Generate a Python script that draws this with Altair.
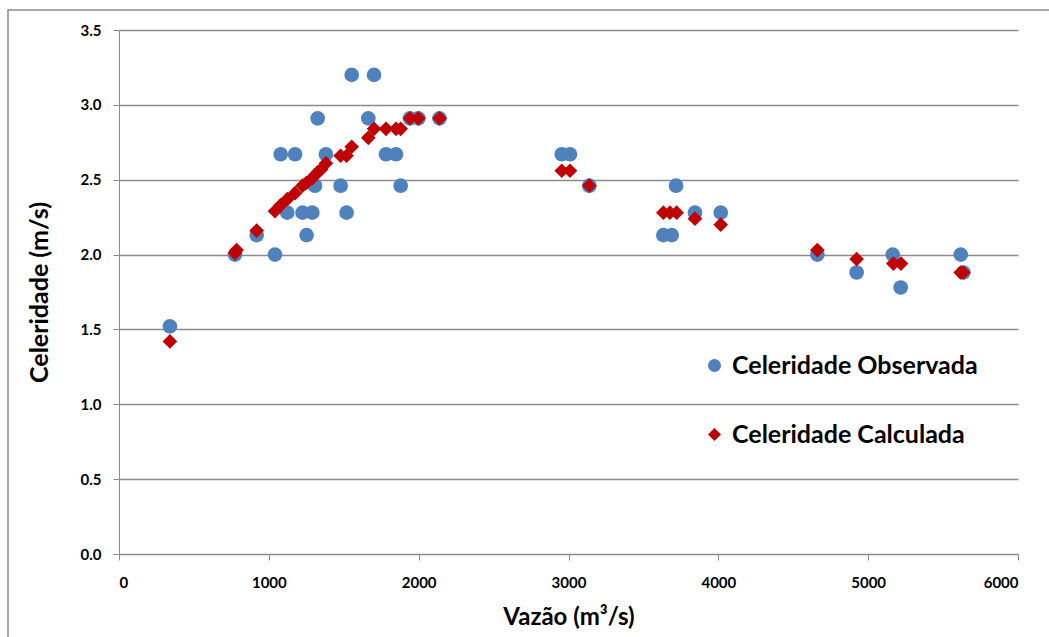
import altair as alt
import pandas as pd

# Observed celerity (blue circles)
obs_x = [340, 774, 919, 1041, 1079, 1123, 1175, 1225, 1252, 1290, 1308, 1326, 1381,
         1479, 1519, 1553, 1664, 1702, 1782, 1849, 1880, 1942, 1998, 2139,
         2955, 3010, 3139, 3633, 3689, 3718, 3844, 4016,
         4661, 4923, 5164, 5217, 5618, 5635]
obs_y = [1.52, 2.0, 2.13, 2.0, 2.67, 2.28, 2.67, 2.28, 2.13, 2.28, 2.46, 2.91, 2.67,
         2.46, 2.28, 3.2, 2.91, 3.2, 2.67, 2.67, 2.46, 2.91, 2.91, 2.91,
         2.67, 2.67, 2.46, 2.13, 2.13, 2.46, 2.28, 2.28,
         2.0, 1.88, 2.0, 1.78, 2.0, 1.88]

# Calculated celerity (red diamonds)
calc_x = [340, 774, 785, 919, 1041, 1079, 1123, 1175, 1225, 1252, 1290, 1308, 1326, 1350, 1381,
          1479, 1519, 1553, 1664, 1702, 1782, 1849, 1880, 1942, 1998, 2139,
          2955, 3010, 3139, 3633, 3677, 3722, 3844, 4016,
          4661, 4923, 5168, 5219, 5618, 5635]
calc_y = [1.42, 2.01, 2.03, 2.16, 2.29, 2.33, 2.37, 2.41, 2.46, 2.48, 2.51, 2.53, 2.55, 2.57, 2.61,
          2.66, 2.66, 2.72, 2.78, 2.84, 2.84, 2.84, 2.84, 2.91, 2.91, 2.91,
          2.56, 2.56, 2.46, 2.28, 2.28, 2.28, 2.24, 2.20,
          2.03, 1.97, 1.94, 1.94, 1.88, 1.88]

series_names = ["Celeridade Observada", "Celeridade Calculada"]

df = pd.concat([
    pd.DataFrame({"Q": obs_x, "C": obs_y, "serie": series_names[0]}),
    pd.DataFrame({"Q": calc_x, "C": calc_y, "serie": series_names[1]}),
], ignore_index=True)

FONT = "Lato"
GREY = "#8c8c8c"

points = alt.Chart(df).mark_point(filled=True, opacity=1, size=215).encode(
    x=alt.X("Q:Q", scale=alt.Scale(domain=[0, 6000], nice=False),
            axis=alt.Axis(title="Vazão (m³/s)", values=[0, 1000, 2000, 3000, 4000, 5000, 6000],
                          format="d", grid=False, domainColor=GREY, tickColor=GREY,
                          tickSize=6, labelPadding=15, titlePadding=15,
                          labelFontSize=15, labelFontWeight="bold", labelColor="#000",
                          titleFontSize=24, titleFontWeight="bold", titleColor="#000",
                          labelFont=FONT, titleFont=FONT)),
    y=alt.Y("C:Q", scale=alt.Scale(domain=[0, 3.5], nice=False),
            axis=alt.Axis(title="Celeridade (m/s)", values=[0, 0.5, 1, 1.5, 2, 2.5, 3, 3.5],
                          format=".1f", grid=True, gridColor=GREY, gridWidth=1.5,
                          domainColor=GREY, tickColor=GREY, tickSize=6,
                          labelPadding=12, titlePadding=28,
                          labelFontSize=15, labelFontWeight="bold", labelColor="#000",
                          titleFontSize=25, titleFontWeight="bold", titleColor="#000",
                          labelFont=FONT, titleFont=FONT)),
    color=alt.Color("serie:N", scale=alt.Scale(domain=series_names, range=["#4f81bd", "#c00000"]),
                    legend=alt.Legend(title=None, orient="none", legendX=583, legendY=323,
                                      labelFontSize=25, labelFontWeight="bold", labelFont=FONT,
                                      labelColor="#000", symbolSize=170, rowPadding=43,
                                      labelOffset=5, labelLimit=0)),
    shape=alt.Shape("serie:N", scale=alt.Scale(domain=series_names, range=["circle", "diamond"]),
                    legend=None),
    order=alt.Order("serie:N", sort="descending"),
)

frame = alt.Chart(alt.Data(values=[{}])).mark_rect(filled=False, stroke=GREY, strokeWidth=1.5).encode(
    x=alt.value(8 - 119), x2=alt.value(1100), y=alt.value(10 - 30), y2=alt.value(700)
)

chart = alt.layer(frame, points).properties(
    width=899, height=524,
    autosize=alt.AutoSizeParams(type="none"),
    padding={"left": 119, "top": 30, "right": 31, "bottom": 83},
).configure_view(stroke=None)

chart.save("out.html", embed_options={"renderer": "svg", "actions": False})
